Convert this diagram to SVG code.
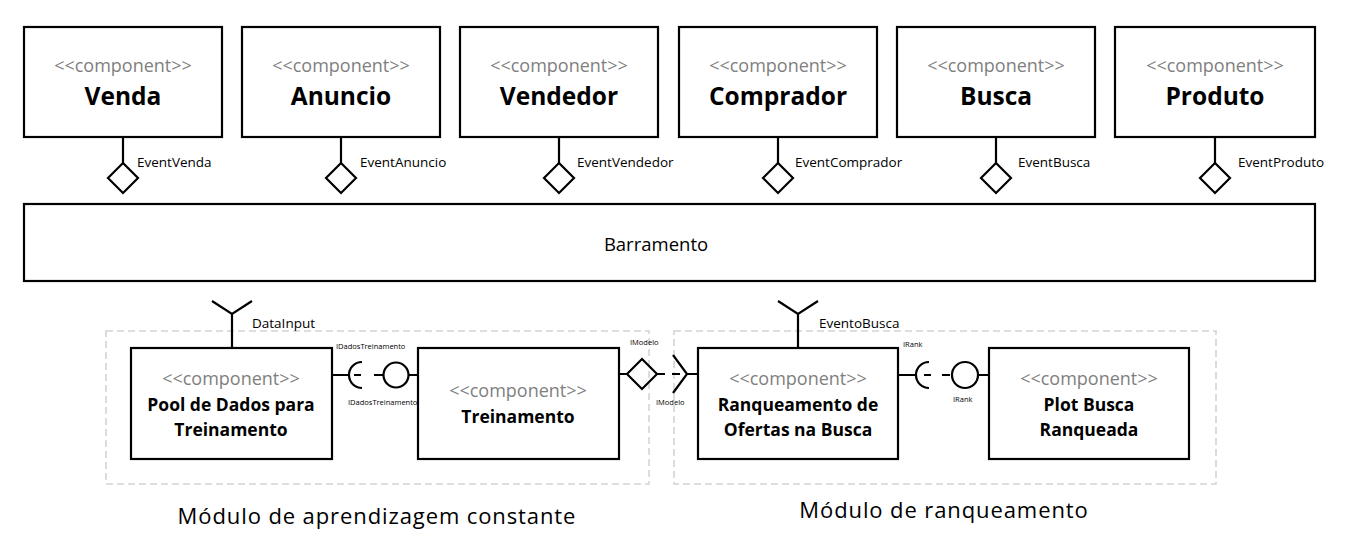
<svg xmlns="http://www.w3.org/2000/svg" width="1357" height="544" viewBox="0 0 1357 544">
<style>
.box{fill:#fff;stroke:#000;stroke-width:2.2}
.ln{fill:none;stroke:#000;stroke-width:2.2}
.mod{fill:none;stroke:#d4d4d4;stroke-width:1.6;stroke-dasharray:7 4}
.st{font-family:"Open Sans","Liberation Sans",sans-serif;font-size:18px;fill:#7f7f7f;text-anchor:middle}
.nm{font-family:"Open Sans","Liberation Sans",sans-serif;font-size:24.5px;font-weight:bold;fill:#000;text-anchor:middle}
.nm2{font-family:"Open Sans","Liberation Sans",sans-serif;font-size:17.5px;font-weight:bold;fill:#000;text-anchor:middle}
.lb{font-family:"Open Sans","Liberation Sans",sans-serif;font-size:13.5px;fill:#000}
.tn{font-family:"Open Sans","Liberation Sans",sans-serif;font-size:7.5px;fill:#000}
.big{font-family:"Open Sans","Liberation Sans",sans-serif;font-size:22px;letter-spacing:0.9px;fill:#000;text-anchor:middle}
</style>
<rect width="1357" height="544" fill="#fff"/>
<g id="modules">
<rect class="mod" x="106" y="331" width="543" height="153"/>
<rect class="mod" x="674" y="331" width="542" height="153"/>
<text class="big" x="377" y="524">Módulo de aprendizagem constante</text>
<text class="big" x="944" y="518">Módulo de ranqueamento</text>
</g>
<g id="connectors">
<path class="ln" d="M123,137V163M341,137V163M559,137V163M778,137V163M996,137V163M1215,137V163"/>
<path class="ln" d="M123,163l15,15l-15,15l-15,-15z"/>
<path class="ln" d="M341,163l15,15l-15,15l-15,-15z"/>
<path class="ln" d="M559,163l15,15l-15,15l-15,-15z"/>
<path class="ln" d="M778,163l15,15l-15,15l-15,-15z"/>
<path class="ln" d="M996,163l15,15l-15,15l-15,-15z"/>
<path class="ln" d="M1215,163l15,15l-15,15l-15,-15z"/>
<text class="lb" x="137" y="167">EventVenda</text>
<text class="lb" x="360" y="167">EventAnuncio</text>
<text class="lb" x="577" y="167">EventVendedor</text>
<text class="lb" x="795" y="167">EventComprador</text>
<text class="lb" x="1018" y="167">EventBusca</text>
<text class="lb" x="1238" y="167">EventProduto</text>
<path class="ln" d="M212,301L232,314L252,301M232,314V348"/>
<text class="lb" x="252" y="328">DataInput</text>
<path class="ln" d="M778,301L798,314L818,301M798,314V348"/>
<text class="lb" x="819" y="328">EventoBusca</text>
<path class="ln" d="M332,375H349M362,362A13,13 0 0 0 362,388M354,375H361M374,375H383M409,375H418"/>
<circle class="ln" cx="396" cy="375" r="12.5"/>
<text class="tn" x="336" y="349">IDadosTreinamento</text>
<text class="tn" x="348" y="405">IDadosTreinamento</text>
<path class="ln" d="M619,374H627M642,359L657,374L642,389L627,374Z M657,374H665M672,374H680M673,355L687,374L673,393M687,374H698"/>
<text class="tn" x="630" y="345">IModelo</text>
<text class="tn" x="656" y="405">IModelo</text>
<path class="ln" d="M898,375H916M929,362A13,13 0 0 0 929,388M924,375H931M942,375H950M978,375H989"/>
<circle class="ln" cx="965" cy="375" r="13"/>
<text class="tn" x="903" y="347">IRank</text>
<text class="tn" x="953" y="402">IRank</text>
</g>
<g id="venda"><rect class="box" x="24" y="27" width="198" height="110"/><text class="st" x="123" y="72">&lt;&lt;component&gt;&gt;</text><text class="nm" x="123" y="105">Venda</text></g>
<g id="anuncio"><rect class="box" x="242" y="27" width="198" height="110"/><text class="st" x="341" y="72">&lt;&lt;component&gt;&gt;</text><text class="nm" x="341" y="105">Anuncio</text></g>
<g id="vendedor"><rect class="box" x="460" y="27" width="198" height="110"/><text class="st" x="559" y="72">&lt;&lt;component&gt;&gt;</text><text class="nm" x="559" y="105">Vendedor</text></g>
<g id="comprador"><rect class="box" x="679" y="27" width="198" height="110"/><text class="st" x="778" y="72">&lt;&lt;component&gt;&gt;</text><text class="nm" x="778" y="105">Comprador</text></g>
<g id="busca"><rect class="box" x="897" y="27" width="198" height="110"/><text class="st" x="996" y="72">&lt;&lt;component&gt;&gt;</text><text class="nm" x="996" y="105">Busca</text></g>
<g id="produto"><rect class="box" x="1115" y="27" width="200" height="110"/><text class="st" x="1215" y="72">&lt;&lt;component&gt;&gt;</text><text class="nm" x="1215" y="105">Produto</text></g>
<g id="barramento"><rect class="box" x="24" y="204" width="1291" height="77"/><text class="big" x="656" y="251" style="font-size:18.5px;letter-spacing:0">Barramento</text></g>
<g id="pool"><rect class="box" x="131" y="348" width="201" height="111"/><text class="st" x="231" y="385">&lt;&lt;component&gt;&gt;</text><text class="nm2" x="231" y="411">Pool de Dados para</text><text class="nm2" x="231" y="436">Treinamento</text></g>
<g id="treinamento"><rect class="box" x="418" y="348" width="201" height="111"/><text class="st" x="518" y="397">&lt;&lt;component&gt;&gt;</text><text class="nm2" x="518" y="423">Treinamento</text></g>
<g id="ranqueamento"><rect class="box" x="698" y="348" width="200" height="111"/><text class="st" x="798" y="385">&lt;&lt;component&gt;&gt;</text><text class="nm2" x="798" y="411">Ranqueamento de</text><text class="nm2" x="798" y="436">Ofertas na Busca</text></g>
<g id="plot"><rect class="box" x="989" y="348" width="200" height="111"/><text class="st" x="1089" y="385">&lt;&lt;component&gt;&gt;</text><text class="nm2" x="1089" y="411">Plot Busca</text><text class="nm2" x="1089" y="436">Ranqueada</text></g>
</svg>
